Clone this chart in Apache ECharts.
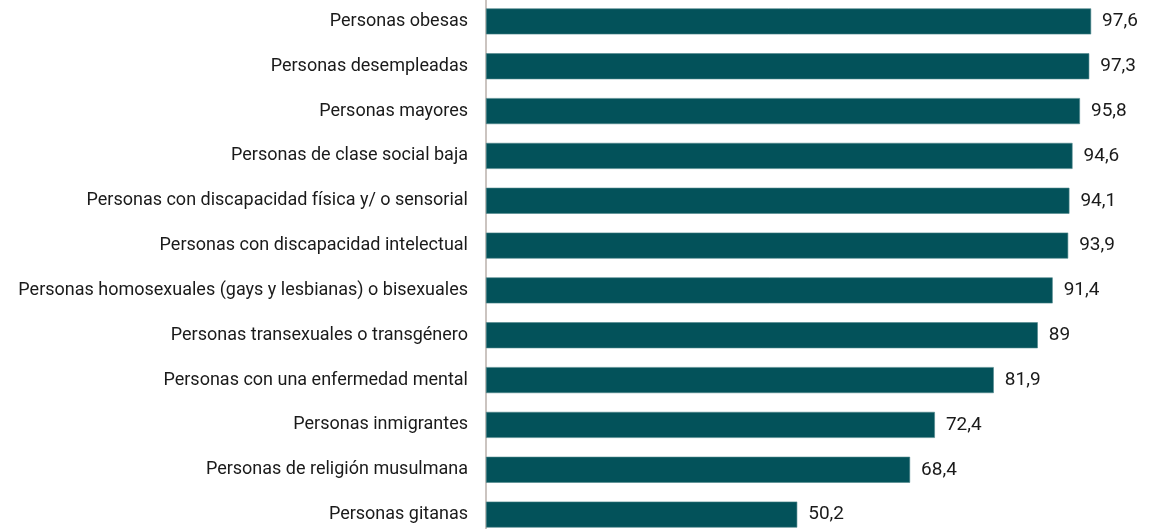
<!DOCTYPE html>
<html>
<head>
<meta charset="utf-8">
<script src="https://cdn.jsdelivr.net/npm/echarts@6/dist/echarts.min.js"></script>
<style>
  html, body { margin: 0; padding: 0; background: #fff; }
  #chart { width: 1151px; height: 529px; }
</style>
</head>
<body>
<div id="chart"></div>
<script>
// categorías, de arriba abajo
const categories = [
  "Personas obesas",
  "Personas desempleadas",
  "Personas mayores",
  "Personas de clase social baja",
  "Personas con discapacidad física y/ o sensorial",
  "Personas con discapacidad intelectual",
  "Personas homosexuales (gays y lesbianas) o bisexuales",
  "Personas transexuales o transgénero",
  "Personas con una enfermedad mental",
  "Personas inmigrantes",
  "Personas de religión musulmana",
  "Personas gitanas"
];
const values = [97.6, 97.3, 95.8, 94.6, 94.1, 93.9, 91.4, 89, 81.9, 72.4, 68.4, 50.2];

const font = "Roboto, 'Liberation Sans', sans-serif";

var myChart = echarts.init(document.getElementById("chart"));

myChart.setOption({
  animation: false,
  grid: { left: 486, right: 45, top: -1, height: 538, containLabel: false, outerBoundsMode: "none" },
  xAxis: {
    type: "value",
    min: 0,
    max: 100,
    show: false
  },
  yAxis: {
    type: "category",
    inverse: true,
    data: categories,
    axisLine: { show: true, lineStyle: { color: "#cbc4c0", width: 2 } },
    axisTick: { show: false },
    axisLabel: {
      margin: 18,
      fontFamily: font,
      fontSize: 18,
      color: "#1a1a1a"
    }
  },
  series: [
    {
      type: "bar",
      data: values,
      barWidth: 26,
      itemStyle: { color: "#03525a", borderColor: "#4f868b", borderWidth: 0.6 },
      label: {
        show: true,
        position: "right",
        distance: 11,
        fontFamily: font,
        fontSize: 19,
        color: "#1a1a1a",
        formatter: (p) => String(p.value).replace(".", ",")
      }
    }
  ]
});
</script>
</body>
</html>
